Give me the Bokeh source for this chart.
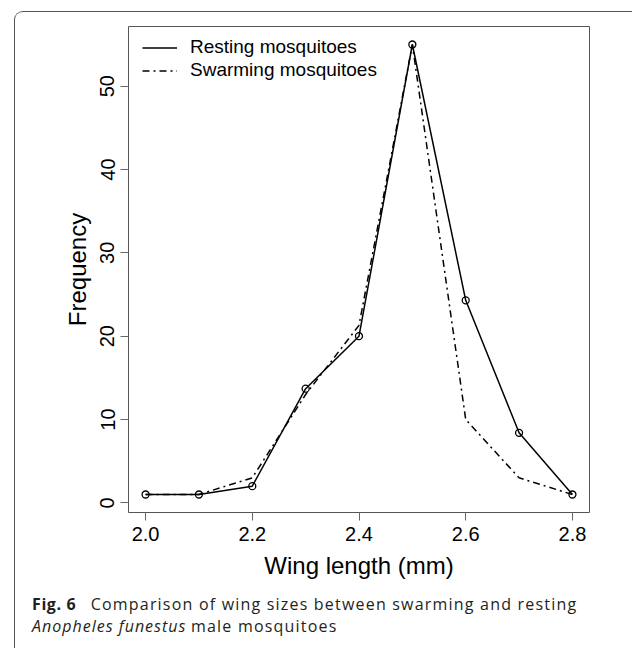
from bokeh.plotting import figure
from bokeh.layouts import column
from bokeh.models import (FixedTicker, Legend, LegendItem, Div,
                          NumeralTickFormatter, Range1d)
from bokeh.embed import file_html
from bokeh.resources import INLINE

# ---- data ----
wing_length = [2.0, 2.1, 2.2, 2.3, 2.4, 2.5, 2.6, 2.7, 2.8]
resting = [1, 1, 2, 13.7, 20, 55, 24.3, 8.4, 1]
swarming = [1, 1, 3, 13, 21.3, 55, 10, 3, 1]
x_ticks = [2.0, 2.2, 2.4, 2.6, 2.8]
y_ticks = [0, 10, 20, 30, 40, 50]
x_title = "Wing length (mm)"
y_title = "Frequency"
legend_labels = ["Resting mosquitoes", "Swarming mosquitoes"]
caption_fig = "Fig. 6"
caption_line1 = "Comparison of wing sizes between swarming and resting"
caption_species = "Anopheles funestus"
caption_line2 = "male mosquitoes"

# R-style 4% range padding
xmin, xmax = min(wing_length), max(wing_length)
ymin, ymax = min(resting + swarming), max(resting + swarming)
xpad = 0.04 * (xmax - xmin)
ypad = 0.04 * (ymax - ymin)

W, H = 633, 649
OX, OY = 15, 12                        # content origin inside outer frame
FL, FR, FT, FB = 128, 590, 26, 512     # plot frame edges (page px)
PW = W - OX
PH = 578

p = figure(width=PW, height=PH, output_backend="svg", toolbar_location=None,
           x_range=Range1d(xmin - xpad, xmax + xpad),
           y_range=Range1d(ymin - ypad, ymax + ypad),
           min_border_left=FL - OX, min_border_right=PW - (FR - OX),
           min_border_top=FT - OY, min_border_bottom=PH - (FB - OY))
p.background_fill_color = "white"
p.border_fill_color = "white"
p.xgrid.visible = False
p.ygrid.visible = False
p.outline_line_color = "#555555"
p.outline_line_width = 1

for ax in (p.xaxis[0], p.yaxis[0]):
    ax.axis_line_color = None
    ax.major_tick_out = 8
    ax.major_tick_in = 0
    ax.minor_tick_line_color = None
    ax.major_tick_line_color = "#666666"
    ax.major_label_text_font = "Liberation Sans"
    ax.major_label_text_font_size = "20px"
    ax.major_label_text_color = "black"
    ax.major_label_standoff = 6
    ax.axis_label_text_font = "Liberation Sans"
    ax.axis_label_text_font_size = "24px"
    ax.axis_label_text_font_style = "normal"
    ax.axis_label_text_color = "black"

p.xaxis[0].ticker = FixedTicker(ticks=x_ticks)
p.xaxis[0].formatter = NumeralTickFormatter(format="0.0")
p.xaxis[0].axis_label = x_title
p.xaxis[0].axis_label_standoff = 8

p.yaxis[0].ticker = FixedTicker(ticks=y_ticks)
p.yaxis[0].major_label_orientation = "vertical"
p.yaxis[0].axis_label = y_title
p.yaxis[0].axis_label_standoff = 7

# ---- data lines ----
s_line = p.line(wing_length, swarming, line_color="black", line_width=1.5,
                line_dash="7 4 2 4")
r_line = p.line(wing_length, resting, line_color="black", line_width=1.5)
p.scatter(wing_length, resting, marker="circle", size=7, line_color="black",
          line_width=1.3, fill_alpha=0)

legend = Legend(items=[LegendItem(label=legend_labels[0], renderers=[r_line]),
                       LegendItem(label=legend_labels[1], renderers=[s_line])],
                location=(14, 430.5), padding=0, margin=0, spacing=0,
                glyph_width=35, glyph_height=23, label_height=23,
                label_standoff=13, border_line_alpha=0, background_fill_alpha=0,
                label_text_font="Liberation Sans", label_text_font_size="19px",
                label_text_color="black")
p.add_layout(legend, "center")

# ---- caption ----
cap_html = (
    '<div style="font-family:\'Open Sans\';font-size:16px;line-height:22px;'
    'letter-spacing:1.2px;color:#231f20;white-space:nowrap;'
    'padding:3px 0 0 17px;margin:0;">'
    f'<span style="display:inline-block;width:58.7px;font-weight:bold;letter-spacing:0.6px;">{caption_fig}</span>'
    f'{caption_line1}<br>'
    f'<span style="display:inline-block;width:159px;font-style:italic;letter-spacing:1px;">{caption_species}</span>'
    f'{caption_line2}</div>'
)
cap = Div(text=cap_html, width=PW, height=H - OY - PH, margin=0)

root = column(p, cap, width=PW, height=H - OY, spacing=0,
              styles={"margin-left": "14px", "margin-top": "11px",
                      "border-top": "1px solid #555555",
                      "border-left": "1px solid #555555",
                      "border-top-left-radius": "9px",
                      "overflow": "hidden", "background-color": "white"})

open("out.html", "w").write(file_html(root, INLINE))
